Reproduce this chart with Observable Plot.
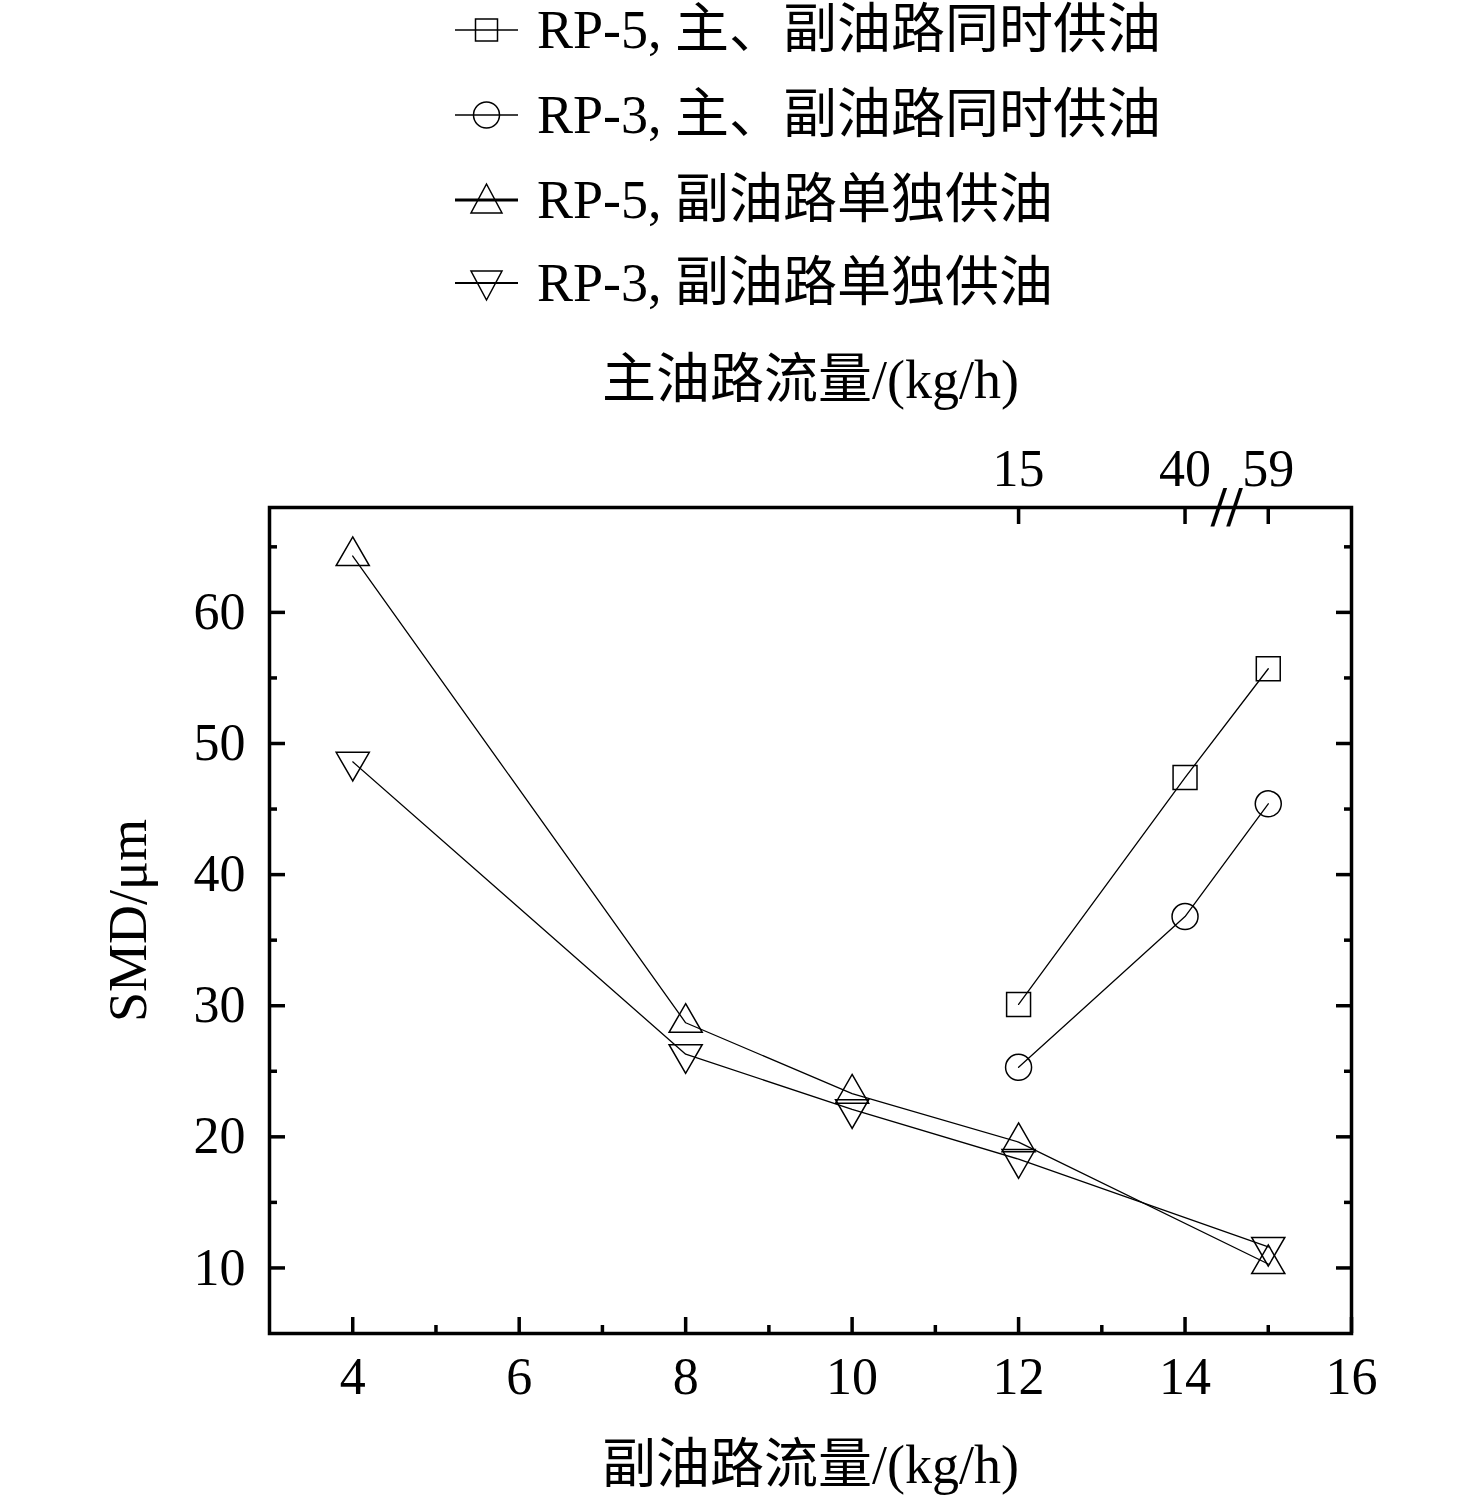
<!DOCTYPE html>
<html><head><meta charset="utf-8">
<script src="https://cdn.jsdelivr.net/npm/d3@7"></script>
<script src="https://cdn.jsdelivr.net/npm/@observablehq/plot@0.6"></script>
<style>
body{margin:0;background:#fff;width:1476px;font-family:"Liberation Serif","Noto Sans CJK SC",serif;color:#000;}
#legend{position:relative;height:330px;}
.row{position:absolute;left:455px;height:60px;display:flex;align-items:center;white-space:nowrap;}
.row span{font-size:54px;margin-left:19px;line-height:1;}
</style></head><body>
<div id="legend"></div>
<div id="chart"></div>
<script>
// data
const subFlow = [4, 8, 10, 12, 15];          // 副油路流量 kg/h
const bothFlow = [12, 14, 15];                // 副油路流量 kg/h (主、副油路同时供油)
const rp5Both = [30.1, 47.4, 55.7];
const rp3Both = [25.3, 36.8, 45.4];
const rp5Sub = [64.3, 28.7, 23.3, 19.6, 10.3];
const rp3Sub = [48.6, 26.3, 22.1, 18.3, 11.6];
const mainFlowTicks = [12, 14, 15];
const mainFlowLabels = ["15", "40", "59"];
const xTicks = [4, 6, 8, 10, 12, 14, 16];
const xMinor = [5, 7, 9, 11, 13, 15];
const yTicks = [10, 20, 30, 40, 50, 60];
const yMinor = [15, 25, 35, 45, 55, 65];
const axisBreak = [14.5];
const seriesNames = ["RP-5, 主、副油路同时供油", "RP-3, 主、副油路同时供油", "RP-5, 副油路单独供油", "RP-3, 副油路单独供油"];

const series = [
  {name: seriesNames[0], xs: bothFlow, ys: rp5Both, symbol: "square", r: 13.5, rotate: 0, lw: 1.5},
  {name: seriesNames[1], xs: bothFlow, ys: rp3Both, symbol: "circle", r: 13, rotate: 0, lw: 1.5},
  {name: seriesNames[2], xs: subFlow, ys: rp5Sub, symbol: "triangle", r: 12.3, rotate: 0, lw: 3},
  {name: seriesNames[3], xs: subFlow, ys: rp3Sub, symbol: "triangle", r: 12.3, rotate: 180, lw: 2}
];
const rows = series.flatMap(s => s.xs.map((x, i) => ({name: s.name, x, y: s.ys[i]})));

// legend
const legend = document.getElementById("legend");
const centers = [30, 115, 200, 283];
const icon = (s) => {
  let m = "";
  if (s.symbol === "square") m = `<rect x="20.5" y="9" width="22" height="22" fill="none" stroke="#000" stroke-width="1.5"/>`;
  else if (s.symbol === "circle") m = `<circle cx="31.5" cy="20" r="13" fill="none" stroke="#000" stroke-width="1.5"/>`;
  else if (s.rotate === 0) m = `<path d="M31.5,4 L47,33 L16,33 Z" fill="none" stroke="#000" stroke-width="1.5"/>`;
  else m = `<path d="M31.5,37 L47,8 L16,8 Z" fill="none" stroke="#000" stroke-width="1.5"/>`;
  return `<svg width="63" height="40" viewBox="0 0 63 40"><line x1="0" x2="63" y1="20" y2="20" stroke="#000" stroke-width="${s.lw}"/>${m}</svg>`;
};
series.forEach((s, i) => {
  const d = document.createElement("div");
  d.className = "row";
  d.style.top = (centers[i] - 30) + "px";
  d.innerHTML = icon(s) + `<span>${s.name}</span>`;
  legend.appendChild(d);
});

const fs = 52;
const tw = 3.5;
const chart = Plot.plot({
  width: 1476,
  height: 1167,
  marginTop: 177,
  marginBottom: 164,
  marginLeft: 269,
  marginRight: 125,
  style: {fontFamily: "'Liberation Serif','Noto Sans CJK SC',serif", background: "white", color: "black"},
  x: {domain: [3, 16], axis: null},
  y: {domain: [5, 68], axis: null},
  marks: [
    Plot.line(rows, {x: "x", y: "y", z: "name", stroke: "black", strokeWidth: 1.3}),
    ...series.map(s => Plot.dot(rows.filter(d => d.name === s.name), {
      x: "x", y: "y", symbol: s.symbol, r: s.r, rotate: s.rotate, stroke: "black", strokeWidth: 1.5, fill: "none"
    })),
    // bottom axis
    Plot.axisX({ticks: xTicks, anchor: "bottom", tickSize: 0, tickPadding: 24, fontSize: fs, label: null}),
    Plot.axisX({ticks: xTicks, anchor: "bottom", tickSize: -16, strokeWidth: tw, fill: "none", label: null}),
    Plot.axisX({ticks: xMinor, anchor: "bottom", tickSize: -8, strokeWidth: tw, fill: "none", label: null}),
    // top axis (主油路流量)
    Plot.axisX({ticks: mainFlowTicks, anchor: "top", tickSize: -16, strokeWidth: tw, fill: "none", label: null}),
    Plot.axisX({ticks: mainFlowTicks, anchor: "top", tickSize: 0, tickPadding: 22, fontSize: fs, label: null,
      tickFormat: d => mainFlowLabels[mainFlowTicks.indexOf(d)]}),
    // left axis
    Plot.axisY({ticks: yTicks, anchor: "left", tickSize: 0, tickPadding: 24, fontSize: fs, label: null}),
    Plot.axisY({ticks: yTicks, anchor: "left", tickSize: -16, strokeWidth: tw, fill: "none", label: null}),
    Plot.axisY({ticks: yMinor, anchor: "left", tickSize: -8, strokeWidth: tw, fill: "none", label: null}),
    // right axis
    Plot.axisY({ticks: yTicks, anchor: "right", tickSize: -16, strokeWidth: tw, fill: "none", label: null}),
    Plot.axisY({ticks: yMinor, anchor: "right", tickSize: -8, strokeWidth: tw, fill: "none", label: null}),
    Plot.frame({strokeWidth: 3.5}),
    // axis break
    Plot.text(axisBreak, {x: d => d, text: () => "//", frameAnchor: "top", lineAnchor: "middle", dy: 1, fontSize: 56, fontWeight: "bold"}),
    // axis titles
    Plot.text(["副油路流量/(kg/h)"], {frameAnchor: "bottom", lineAnchor: "middle", dy: 132, fontSize: 54}),
    Plot.text(["主油路流量/(kg/h)"], {frameAnchor: "top", lineAnchor: "middle", dy: -127, fontSize: 54}),
    Plot.text(["SMD/μm"], {frameAnchor: "left", textAnchor: "middle", lineAnchor: "middle", dx: -141, rotate: -90, fontSize: 54})
  ]
});
document.getElementById("chart").appendChild(chart);
</script>
</body></html>
